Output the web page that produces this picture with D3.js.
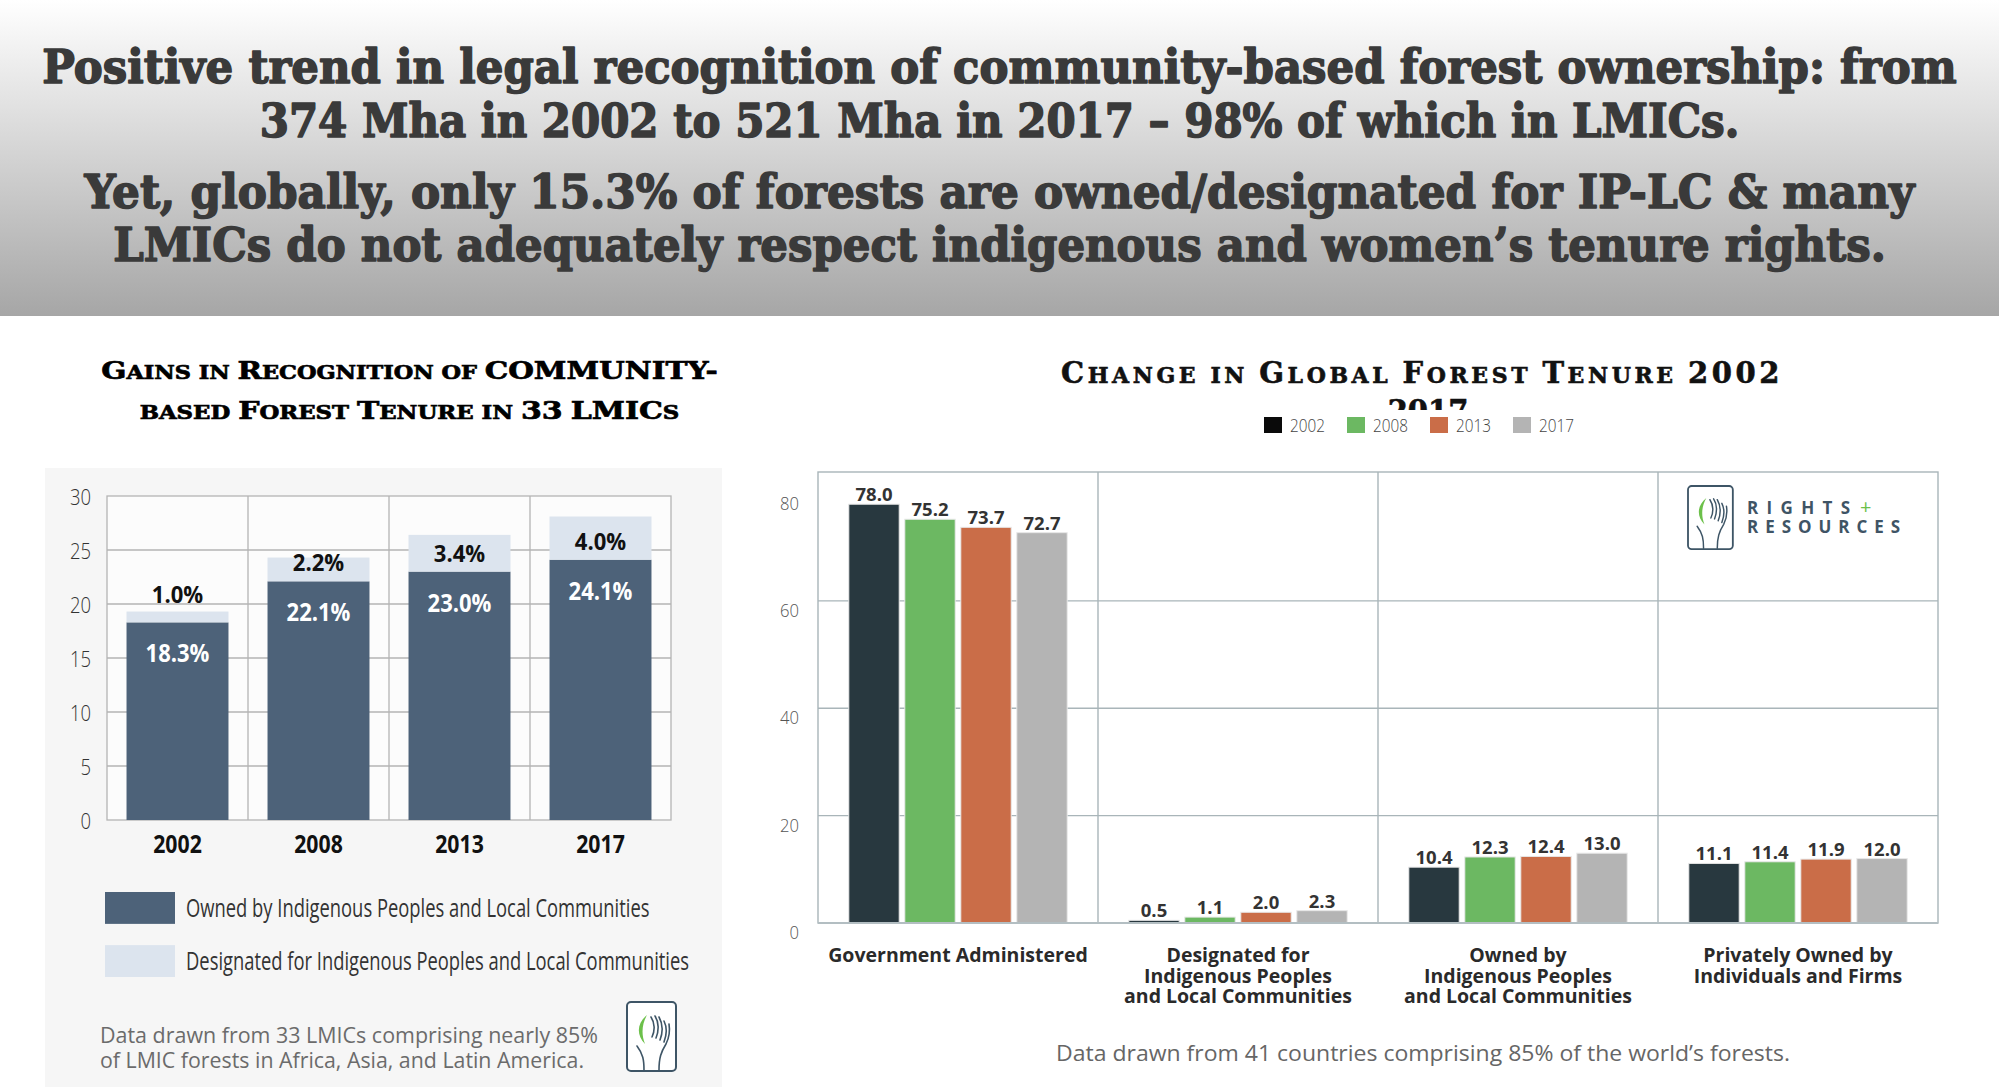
<!DOCTYPE html>
<html><head><meta charset="utf-8">
<script src="https://cdn.jsdelivr.net/npm/d3@7"></script>
<style>body{margin:0;background:#fff;} svg{display:block;}</style>
</head><body>
<svg id="c" width="1999" height="1089"></svg>
<script>
// ---------------- DATA ----------------
const headlineLines = [
  "Positive trend in legal recognition of community-based forest ownership: from",
  "374 Mha in 2002 to 521 Mha in 2017 – 98% of which in LMICs.",
  "Yet, globally, only 15.3% of forests are owned/designated for IP-LC & many",
  "LMICs do not adequately respect indigenous and women’s tenure rights."
];
const leftTitleLines = ["Gains in Recognition of COMMUNITY-", "based Forest Tenure in 33 LMICs"];
const leftYears = ["2002", "2008", "2013", "2017"];
const ownedPct = [18.3, 22.1, 23.0, 24.1];
const designatedPct = [1.0, 2.2, 3.4, 4.0];
const leftTicks = [0, 5, 10, 15, 20, 25, 30];
const leftLegendLabels = ["Owned by Indigenous Peoples and Local Communities",
                          "Designated for Indigenous Peoples and Local Communities"];
const leftNote = ["Data drawn from 33 LMICs comprising nearly 85%",
                  "of LMIC forests in Africa, Asia, and Latin America."];

const rightTitleLines = ["Change in Global Forest Tenure 2002", "2017"];
const tenureCategories = ["Government Administered",
  "Designated for|Indigenous Peoples|and Local Communities",
  "Owned by|Indigenous Peoples|and Local Communities",
  "Privately Owned by|Individuals and Firms"];
const tenureYears = ["2002", "2008", "2013", "2017"];
const tenure2002 = [78.0, 0.5, 10.4, 11.1];
const tenure2008 = [75.2, 1.1, 12.3, 11.4];
const tenure2013 = [73.7, 2.0, 12.4, 11.9];
const tenure2017 = [72.7, 2.3, 13.0, 12.0];
const rightTicks = [0, 20, 40, 60, 80];
const rightGridTicks = [20, 40, 60];
const rightNote = "Data drawn from 41 countries comprising 85% of the world’s forests.";

// ---------------- STYLE ----------------
const barColors = ["#28383f", "#6cb862", "#ca6d48", "#b4b4b4"];
const legendColors = ["#0a0a0a", "#6cb862", "#ca6d48", "#b4b4b4"];
const ownedColor = "#4d6279", designatedColor = "#dce4ee";
const SERIF = "'DejaVu Serif', serif";
const SANS = "'Open Sans', 'Noto Sans', sans-serif";

const svg = d3.select("#c");
const defs = svg.append("defs");

// ---------------- HEADER ----------------
const grad = defs.append("linearGradient").attr("id", "hg")
  .attr("x1", 0).attr("y1", 0).attr("x2", 0).attr("y2", 1);
grad.append("stop").attr("offset", "0%").attr("stop-color", "#ffffff");
grad.append("stop").attr("offset", "100%").attr("stop-color", "#a6a6a6");
svg.append("rect").attr("width", 1999).attr("height", 316).attr("fill", "url(#hg)");

function fitText(g, target) {
  const t = g.select("text");
  const w = t.node().getComputedTextLength();
  t.attr("transform", `scale(${target / w},1)`);
}
const headBase = [83, 137, 208, 261], headW = [1915, 1480, 1830, 1773];
headlineLines.forEach((s, i) => {
  const g = svg.append("g").attr("transform", `translate(999.5,${headBase[i]})`);
  g.append("text").attr("text-anchor", "middle").attr("font-family", SERIF)
    .attr("font-weight", "bold").attr("font-size", 47).attr("fill", "#3a3a3a")
    .attr("stroke", "#3a3a3a").attr("stroke-width", 1.6).attr("stroke-linejoin", "round").text(s);
  fitText(g, headW[i]);
});

function smallCaps(t, str, big, small) {
  const runs = [];
  for (const ch of str) {
    const sm = /[a-z ]/.test(ch);
    if (runs.length && runs[runs.length - 1].sm === sm) runs[runs.length - 1].s += ch;
    else runs.push({ sm, s: ch });
  }
  runs.forEach(r => t.append("tspan").attr("font-size", r.sm ? small : big).text(r.s.toUpperCase()));
}

// ---------------- LEFT PANEL ----------------
svg.append("rect").attr("x", 45).attr("y", 468).attr("width", 677).attr("height", 619).attr("fill", "#f6f6f6");

const ltBase = [379, 419], ltW = [617, 540];
leftTitleLines.forEach((s, i) => {
  const g = svg.append("g").attr("transform", `translate(409.5,${ltBase[i]})`);
  const t = g.append("text").attr("text-anchor", "middle").attr("font-family", SERIF)
    .attr("font-weight", "bold").attr("fill", "#000").attr("stroke", "#000").attr("stroke-width", 0.7);
  smallCaps(t, s, 25, 19);
  fitText(g, ltW[i]);
});

const xL = d3.scaleBand().domain(leftYears).range([107, 671]).paddingInner(0.277).paddingOuter(0.1385);
const yL = d3.scaleLinear().domain([0, 30]).range([820, 496]);
const lp = svg.append("g");
lp.append("rect").attr("x", 107).attr("y", yL(30)).attr("width", 564).attr("height", yL(0) - yL(30)).attr("fill", "#fcfcfc");
lp.selectAll(".hg").data(leftTicks.slice(1, -1)).join("line")
  .attr("x1", 107).attr("x2", 671).attr("y1", d => yL(d)).attr("y2", d => yL(d))
  .attr("stroke", "#b4b4b4").attr("stroke-width", 1.3);
const gapL = (xL.step() - xL.bandwidth()) / 2;
lp.selectAll(".vg").data(leftYears.slice(1)).join("line")
  .attr("x1", d => xL(d) - gapL).attr("x2", d => xL(d) - gapL).attr("y1", yL(30)).attr("y2", yL(0))
  .attr("stroke", "#b4b4b4").attr("stroke-width", 1.3);
lp.append("rect").attr("x", 107).attr("y", yL(30)).attr("width", 564).attr("height", yL(0) - yL(30))
  .attr("fill", "none").attr("stroke", "#b4b4b4").attr("stroke-width", 1.3);

const leftData = leftYears.map((y, i) => ({ year: y, owned: ownedPct[i], des: designatedPct[i] }));
lp.selectAll(".own").data(leftData).join("rect")
  .attr("x", d => xL(d.year)).attr("width", xL.bandwidth())
  .attr("y", d => yL(d.owned)).attr("height", d => yL(0) - yL(d.owned)).attr("fill", ownedColor);
lp.selectAll(".des").data(leftData).join("rect")
  .attr("x", d => xL(d.year)).attr("width", xL.bandwidth())
  .attr("y", d => yL(d.owned + d.des)).attr("height", d => yL(d.owned) - yL(d.owned + d.des)).attr("fill", designatedColor);

function condLabel(parent, x, y, txt, k, attrs) {
  const g = parent.append("g").attr("transform", `translate(${x},${y}) scale(${k},1)`);
  const t = g.append("text").attr("text-anchor", "middle").text(txt);
  Object.entries(attrs).forEach(([a, v]) => t.attr(a, v));
  return t;
}
leftData.forEach(d => {
  const cx = xL(d.year) + xL.bandwidth() / 2;
  condLabel(lp, cx, yL(d.owned) + 40, d.owned.toFixed(1) + "%", 0.88,
    { "font-family": SANS, "font-weight": "bold", "font-size": 25, fill: "#ffffff" });
  const segH = yL(d.owned) - yL(d.owned + d.des);
  const by = segH < 20 ? yL(d.owned + d.des) - 9 : yL(d.owned) - 10;
  condLabel(lp, cx, by, d.des.toFixed(1) + "%", 0.92,
    { "font-family": SANS, "font-weight": "bold", "font-size": 24, fill: "#111" });
  condLabel(lp, cx, 853, d.year, 0.85,
    { "font-family": SANS, "font-weight": "bold", "font-size": 25, fill: "#111" });
});

const axL = lp.append("g").attr("transform", "translate(107,0)")
  .call(d3.axisLeft(yL).tickValues(leftTicks).tickSize(0).tickPadding(0));
axL.select(".domain").remove();
axL.selectAll("text").attr("font-family", SANS).attr("font-weight", 300).attr("font-size", 22)
  .attr("fill", "#333").attr("x", -16 / 0.84).attr("dy", "0.38em").attr("transform", "scale(0.84,1)");

// left legend
const lg = svg.append("g");
const legY = d3.scaleBand().domain(leftLegendLabels).range([892, 977]).paddingInner(0.4);
[ownedColor, designatedColor].forEach((c, i) => {
  const lab = leftLegendLabels[i];
  lg.append("rect").attr("x", 105).attr("y", legY(lab)).attr("width", 70).attr("height", legY.bandwidth()).attr("fill", c);
  const g = lg.append("g").attr("transform", `translate(186,${legY(lab) + 25}) scale(0.735,1)`);
  g.append("text").attr("font-family", SANS).attr("font-size", 25).attr("fill", "#333").text(lab);
});

// left note
const noteW = [498, 484];
leftNote.forEach((s, i) => {
  svg.append("text").attr("x", 100).attr("y", 1043 + i * 25).attr("font-family", SANS)
    .attr("font-size", 21).attr("fill", "#6b6b6b")
    .attr("textLength", noteW[i]).attr("lengthAdjust", "spacingAndGlyphs").text(s);
});

function drawLogo(x, y, k) {
  const g = svg.append("g").attr("transform", `translate(${x},${y}) scale(${k})`);
  g.append("rect").attr("x", 0).attr("y", 0).attr("width", 49).attr("height", 69).attr("rx", 4)
    .attr("fill", "#fff").attr("stroke", "#3e5566").attr("stroke-width", 2);
  const s = { fill: "none", stroke: "#3e5566", "stroke-width": 1.6, "stroke-linecap": "round" };
  const paths = ["M17 68 C17 58 16 52 10 44", "M32 68 C32 56 34 50 39 42 C42 36 43 28 42 22",
    "M24 15 C28 21 28 29 25 35", "M28 14 C32 20 32 29 29 36", "M32 15 C36 22 36 30 33 38", "M37 19 C40 25 40 32 37 40"];
  paths.forEach(p => { const e = g.append("path").attr("d", p); Object.entries(s).forEach(([a, v]) => e.attr(a, v)); });
  g.append("path").attr("d", "M20 13 C10 21 9 33 18 42 C14 32 15 22 20 13 Z").attr("fill", "#6cc04a");
  return g;
}
drawLogo(627, 1002, 1);

// ---------------- RIGHT PANEL ----------------
const rtClip = defs.append("clipPath").attr("id", "rtclip");
rtClip.append("rect").attr("x", 900).attr("y", 300).attr("width", 1099).attr("height", 110);
const rtG = svg.append("g").attr("clip-path", "url(#rtclip)");
[383, 421].forEach((by, i) => {
  const t = rtG.append("text").attr("x", i === 0 ? 1422 : 1428).attr("y", by).attr("text-anchor", "middle")
    .attr("font-family", SERIF).attr("font-weight", "bold").attr("fill", "#111")
    .attr("stroke", "#111").attr("stroke-width", 0.6);
  smallCaps(t, rightTitleLines[i], 29, 22);
  if (i === 0) {
    const w = t.node().getComputedTextLength();
    const n = rightTitleLines[i].length;
    t.attr("letter-spacing", (722 - w) / n);
  }
});

const legX = d3.scaleBand().domain(tenureYears).range([1264, 1264 + 4 * 83]);
tenureYears.forEach((yr, i) => {
  svg.append("rect").attr("x", legX(yr)).attr("y", 417).attr("width", 18).attr("height", 16).attr("fill", legendColors[i]);
  const g = svg.append("g").attr("transform", `translate(${legX(yr) + 26},432) scale(0.85,1)`);
  g.append("text").attr("font-family", SANS).attr("font-weight", 300).attr("font-size", 18).attr("fill", "#444").text(yr);
});

const x0 = d3.scaleBand().domain(tenureCategories).range([818, 1938]).paddingInner(0.22).paddingOuter(0.11);
const x1 = d3.scaleBand().domain(tenureYears).range([0, x0.bandwidth()]).paddingInner(0.1);
const yR = d3.scaleLinear().domain([0, 84]).range([923, 472]);
const rp = svg.append("g");
const gridC = "#a9b5b9";
rp.selectAll(".hg").data(rightGridTicks).join("line")
  .attr("x1", 818).attr("x2", 1938).attr("y1", d => yR(d)).attr("y2", d => yR(d))
  .attr("stroke", gridC).attr("stroke-width", 1.4);
const gapR = (x0.step() - x0.bandwidth()) / 2;
rp.selectAll(".vg").data(tenureCategories.slice(1)).join("line")
  .attr("x1", d => x0(d) - gapR).attr("x2", d => x0(d) - gapR).attr("y1", yR(84)).attr("y2", yR(0))
  .attr("stroke", gridC).attr("stroke-width", 1.4);
rp.append("rect").attr("x", 818).attr("y", yR(84)).attr("width", 1120).attr("height", yR(0) - yR(84))
  .attr("fill", "none").attr("stroke", gridC).attr("stroke-width", 1.4);

const series = [tenure2002, tenure2008, tenure2013, tenure2017];
const flat = [];
tenureCategories.forEach((c, ci) => tenureYears.forEach((yr, si) => flat.push({ c, yr, si, v: series[si][ci] })));
rp.selectAll(".bar").data(flat).join("rect")
  .attr("x", d => x0(d.c) + x1(d.yr)).attr("width", x1.bandwidth())
  .attr("y", d => yR(d.v)).attr("height", d => yR(0) - yR(d.v))
  .attr("fill", d => barColors[d.si]).attr("stroke", "#e8e8e8").attr("stroke-width", 1);
rp.append("line").attr("x1", 818).attr("x2", 1938).attr("y1", yR(0)).attr("y2", yR(0))
  .attr("stroke", "#b3bec2").attr("stroke-width", 2);
rp.selectAll(".vl").data(flat).join("text")
  .attr("x", d => x0(d.c) + x1(d.yr) + x1.bandwidth() / 2).attr("y", d => yR(d.v) - 3)
  .attr("text-anchor", "middle").attr("font-family", SANS).attr("font-weight", "bold")
  .attr("font-size", 18.5).attr("fill", "#333").text(d => d.v.toFixed(1));

tenureCategories.forEach(c => {
  const t = rp.append("text").attr("text-anchor", "middle").attr("font-family", SANS)
    .attr("font-weight", "bold").attr("font-size", 19.5).attr("fill", "#2a2a2a");
  c.split("|").forEach((ln, i) => t.append("tspan").attr("x", x0(c) + x0.bandwidth() / 2).attr("y", 962 + i * 20.5).text(ln));
});

const axR = rp.append("g").attr("transform", "translate(818,0)")
  .call(d3.axisLeft(yR).tickValues(rightTicks).tickSize(0).tickPadding(0));
axR.select(".domain").remove();
axR.selectAll("text").attr("font-family", SANS).attr("font-weight", 300).attr("font-size", 18.5)
  .attr("fill", "#555").attr("x", -19 / 0.9).attr("dy", "0.85em").attr("transform", "scale(0.9,1)");

svg.append("text").attr("x", 1423).attr("y", 1061).attr("text-anchor", "middle").attr("font-family", SANS)
  .attr("font-size", 22).attr("fill", "#666").attr("textLength", 734).attr("lengthAdjust", "spacingAndGlyphs").text(rightNote);

drawLogo(1688, 486, 0.915);
const rr = svg.append("g").attr("font-family", SANS).attr("font-weight", "bold").attr("font-size", 17).attr("fill", "#3f5465");
rr.append("text").attr("x", 1747).attr("y", 514).attr("textLength", 103).attr("lengthAdjust", "spacing").text("RIGHTS");
rr.append("text").attr("x", 1860).attr("y", 514).attr("fill", "#6cc04a").attr("font-weight", "normal").attr("font-size", 20).text("+");
rr.append("text").attr("x", 1747).attr("y", 533).attr("textLength", 153).attr("lengthAdjust", "spacing").text("RESOURCES");
</script>
</body></html>
